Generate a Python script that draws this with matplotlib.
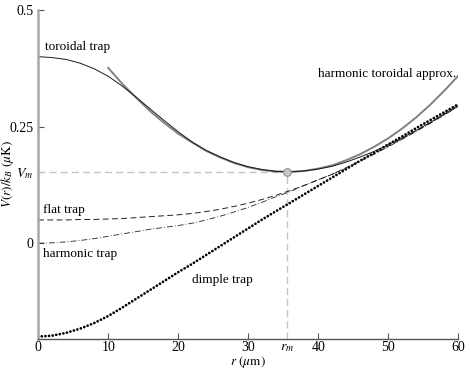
import numpy as np
import matplotlib
matplotlib.use("Agg")
import matplotlib.pyplot as plt

plt.rcParams['font.family'] = ['Liberation Serif', 'DejaVu Serif']
plt.rcParams['mathtext.fontset'] = 'stix'

r = np.arange(0, 61, 2)

# potentials V(r)/kB in uK
toroidal = [0.400, 0.398, 0.394, 0.386, 0.374, 0.358, 0.337, 0.313, 0.288, 0.263,
            0.239, 0.217, 0.199, 0.185, 0.173, 0.164, 0.158, 0.154, 0.153, 0.155,
            0.159, 0.165, 0.174, 0.185, 0.197, 0.211, 0.226, 0.242, 0.259, 0.277, 0.296]
flat = [0.050, 0.050, 0.050, 0.051, 0.051, 0.052, 0.053, 0.055, 0.057, 0.059,
        0.061, 0.064, 0.068, 0.073, 0.079, 0.086, 0.094, 0.103, 0.113, 0.124,
        0.136, 0.148, 0.162, 0.177, 0.192, 0.208, 0.224, 0.241, 0.258, 0.276, 0.294]
harmonic = [0.000, 0.001, 0.003, 0.006, 0.010, 0.015, 0.020, 0.025, 0.030, 0.034,
            0.038, 0.043, 0.050, 0.058, 0.067, 0.077, 0.088, 0.100, 0.111, 0.124,
            0.136, 0.148, 0.161, 0.176, 0.191, 0.207, 0.223, 0.240, 0.257, 0.275, 0.293]
dimple = [-0.200, -0.198, -0.192, -0.183, -0.171, -0.156, -0.138, -0.119, -0.100, -0.081,
          -0.062, -0.044, -0.025, -0.006, 0.013, 0.032, 0.051, 0.069, 0.087, 0.105,
          0.123, 0.141, 0.159, 0.177, 0.194, 0.212, 0.229, 0.247, 0.264, 0.281, 0.298]

# harmonic approximation around the ring minimum (starts at r = 10)
r_approx = np.arange(10, 61, 2)
approx = [0.376, 0.342, 0.312, 0.283, 0.258, 0.235, 0.216, 0.198, 0.184, 0.172,
          0.163, 0.157, 0.154, 0.153, 0.155, 0.160, 0.167, 0.178, 0.191, 0.207,
          0.225, 0.246, 0.270, 0.297, 0.327, 0.359]

r_m = 35.5
V_m = 0.153

fig = plt.figure(figsize=(4.71, 3.70), dpi=100)
ax = fig.add_axes([0.081, 0.084, 0.892, 0.889])

# guide lines to the minimum
ax.plot([0, r_m], [V_m, V_m], color='#c4c4c4', lw=1.0, ls=(0, (5, 3)))
ax.plot([r_m, r_m], [-0.205, V_m], color='#c4c4c4', lw=1.0, ls=(0, (5, 3)))

ax.plot(r, dimple, color='black', lw=2.0, ls=(0, (0.01, 1.3)), dash_capstyle='round')
ax.plot(r, harmonic, color='#222222', lw=0.6, ls=(0, (7, 2.5, 1, 2.5)))
ax.plot(r, flat, color='#222222', lw=0.7, ls=(0, (6, 3.5)))
ax.plot(r_approx, approx, color='#808080', lw=1.4)
ax.plot(r, toroidal, color='#1a1a1a', lw=0.7)
ax.plot([r_m], [V_m], 'o', ms=5.5, mfc='#c8c8c8', mec='#909090', mew=0.8)

fs = 9.5
ax.text(1.0, 0.421, 'toroidal trap', fontsize=fs, va='center')
ax.text(40.0, 0.362, 'harmonic toroidal approx.', fontsize=fs, va='center')
ax.text(0.7, 0.072, 'flat trap', fontsize=fs, va='center')
ax.text(0.7, -0.023, 'harmonic trap', fontsize=fs, va='center')
ax.text(22.0, -0.079, 'dimple trap', fontsize=fs, va='center')

ax.set_xlim(0, 60)
ax.set_ylim(-0.205, 0.5)
ax.set_xticks([0, 10, 20, 30, r_m, 40, 50, 60])
ax.set_xticklabels(['0', '10', '20', '30', '$r_m$', '40', '50', '60'])
ax.set_yticks([0, V_m, 0.25, 0.5])
ax.set_yticklabels(['0', '$V_m$', '0.25', '0.5'])
ax.tick_params(direction='in', length=4, width=0.8, color='#555555', labelsize=10)
ax.tick_params(axis='x', pad=1.5)
ax.xaxis.get_major_ticks()[4].tick1line.set_visible(False)
ax.yaxis.get_major_ticks()[1].tick1line.set_visible(False)

ax.spines['top'].set_visible(False)
ax.spines['right'].set_visible(False)
ax.spines['left'].set_color('#a8a8a8')
ax.spines['left'].set_linewidth(1.8)
ax.spines['bottom'].set_color('#555555')
ax.spines['bottom'].set_linewidth(1.0)

ax.set_xlabel(r'$r\ (\mu\mathrm{m})$', fontsize=9.5)
ax.set_ylabel(r'$V(r)/k_B\ (\mu\mathrm{K})$', fontsize=9.5)
ax.xaxis.set_label_coords(0.5, -0.045)
ax.yaxis.set_label_coords(-0.052, 0.5)

fig.savefig('out.png', dpi=100)
